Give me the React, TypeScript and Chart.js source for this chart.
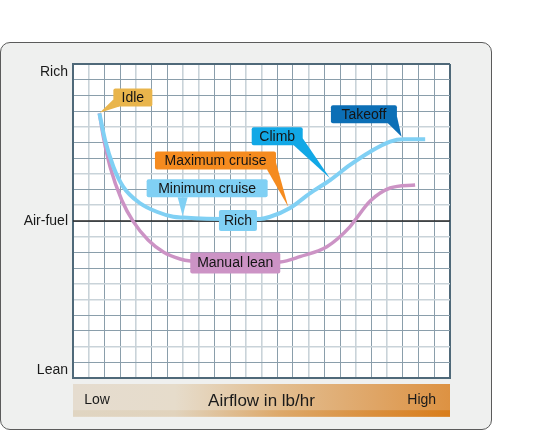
import React, { useEffect, useRef } from "react";
import { Chart, ChartConfiguration, registerables } from "chart.js";

Chart.register(...registerables);

const FONT = "'Liberation Sans', Arial, Helvetica, sans-serif";

// grid units: 24 airflow columns, 20 mixture rows (air-fuel = 10)
const autoRichAirflow = [1.68, 2.04, 2.57, 3.2, 4.27, 5.33, 6.39, 7.03, 8.5, 10.5, 11.9, 12.55, 13.82, 15.1, 16.37, 17.64, 18.92, 20.19, 21.02, 22.42];
const autoRichMixture = [16.86, 15.16, 13.46, 12.18, 11.13, 10.59, 10.27, 10.22, 10.15, 10.12, 10.13, 10.27, 10.83, 11.78, 12.61, 13.57, 14.41, 15.05, 15.2, 15.2];

const manualLeanAirflow = [1.68, 1.97, 2.36, 3.1, 3.84, 4.78, 5.8, 6.82, 7.48, 10.32, 13.18, 14.45, 16.16, 17.64, 17.96, 18.92, 20.19, 21.78];
const manualLeanMixture = [16.86, 15.16, 13.46, 11.34, 9.96, 8.79, 7.99, 7.58, 7.45, 7.32, 7.39, 7.73, 8.36, 9.64, 10.06, 11.27, 12.1, 12.29];

const airFuelLevel = 10;

const mixtureLabels = ["Lean", "Air-fuel", "Rich"];
const mixtureLabelAt = [0.5, 10, 19.5];
const airflowLabels = ["Low", "Airflow in lb/hr", "High"];
const airflowLabelAt = [1.53, 12, 22.2];

const gridCols = Array.from({ length: 25 }, (_, i) => i);
const gridRows = Array.from({ length: 21 }, (_, i) => i);

// which grid lines look lighter/thicker in the print
const lightCols = [1, 4, 7, 8, 11, 12, 15, 18, 20];
const lightRows = [2, 5, 6, 9, 11, 13, 16];

// callout boxes, anchored in grid units
const callouts = [
  { text: "Idle", x: 3.81, y: 17.87, w: 39, h: 18, color: "#e9b54c", tail: "bl", tipX: 1.7, tipY: 16.9 },
  { text: "Maximum cruise", x: 9.07, y: 13.85, w: 121, h: 18, color: "#f58b1f", tail: "br", tipX: 13.7, tipY: 10.91 },
  { text: "Minimum cruise", x: 8.54, y: 12.08, w: 121, h: 18, color: "#80d0f4", tail: "b", tipX: 6.98, tipY: 10.32 },
  { text: "Climb", x: 13.0, y: 15.4, w: 51, h: 18, color: "#12a8e6", tail: "br", tipX: 16.36, tipY: 12.72 },
  { text: "Takeoff", x: 18.52, y: 16.8, w: 66, h: 18, color: "#0c6fb6", tail: "br", tipX: 20.92, tipY: 15.37 },
  { text: "Rich", x: 10.5, y: 10.03, w: 38, h: 21, color: "#80d0f4", tail: "", tipX: 0, tipY: 0 },
  { text: "Manual lean", x: 10.33, y: 7.32, w: 90, h: 21, color: "#cc93c5", tail: "", tipX: 0, tipY: 0 },
];

const toPoints = (xs: number[], ys: number[]) => xs.map((x, i) => ({ x, y: ys[i] }));

const isInt = (v: number) => Math.abs(v - Math.round(v)) < 1e-6;

const backdrop = {
  id: "backdrop",
  beforeDraw(chart: Chart) {
    const { ctx, chartArea: a } = chart;
    ctx.save();
    ctx.fillStyle = "#ffffff";
    ctx.fillRect(a.left, a.top, a.right - a.left, a.bottom - a.top);
    // airflow bar under the plot
    const top = a.bottom + 6;
    const h = 32.7;
    const band = 6.5;
    const g = ctx.createLinearGradient(a.left, 0, a.right, 0);
    g.addColorStop(0, "#e5dccf");
    g.addColorStop(0.27, "#e6dccb");
    g.addColorStop(0.55, "#e2bd8f");
    g.addColorStop(0.8, "#dfa566");
    g.addColorStop(1, "#dd9242");
    ctx.fillStyle = g;
    ctx.fillRect(a.left, top, a.right - a.left, h);
    const g2 = ctx.createLinearGradient(a.left, 0, a.right, 0);
    g2.addColorStop(0, "#e0d5c2");
    g2.addColorStop(0.27, "#e1d3bd");
    g2.addColorStop(0.55, "#dda86a");
    g2.addColorStop(0.8, "#da8e3c");
    g2.addColorStop(1, "#d97d1c");
    ctx.fillStyle = g2;
    ctx.fillRect(a.left, top + h - band, a.right - a.left, band);
    ctx.restore();
  },
};

const calloutPlugin = {
  id: "callouts",
  afterDatasetsDraw(chart: Chart) {
    const { ctx } = chart;
    const sx = chart.scales.x;
    const sy = chart.scales.y;
    ctx.save();
    callouts.forEach((c) => {
      const cx = sx.getPixelForValue(c.x);
      const cy = sy.getPixelForValue(c.y);
      const l = cx - c.w / 2;
      const t = cy - c.h / 2;
      const r = l + c.w;
      const b = t + c.h;
      ctx.fillStyle = c.color;
      if (c.tail) {
        const tx = sx.getPixelForValue(c.tipX);
        const ty = sy.getPixelForValue(c.tipY);
        ctx.beginPath();
        if (c.tail === "bl") {
          ctx.moveTo(l, b - 7);
          ctx.lineTo(l + 6, b);
        } else if (c.tail === "br") {
          ctx.moveTo(r - 9, b);
          ctx.lineTo(r, b - 7);
        } else {
          ctx.moveTo(tx - 5, b);
          ctx.lineTo(tx + 5, b);
        }
        ctx.lineTo(tx, ty);
        ctx.closePath();
        ctx.fill();
      }
      ctx.beginPath();
      ctx.roundRect(l, t, c.w, c.h, 2);
      ctx.fill();
      ctx.fillStyle = "#141414";
      ctx.font = `14px ${FONT}`;
      ctx.textAlign = "center";
      ctx.textBaseline = "middle";
      ctx.fillText(c.text, cx, cy + 0.5);
    });
    ctx.restore();
  },
};

const AXIS_DARK = "#4f6979";

const config: ChartConfiguration = {
  type: "line",
  data: {
    datasets: [
      {
        label: "Auto rich",
        data: toPoints(autoRichAirflow, autoRichMixture),
        borderColor: "#80d0f4",
        borderWidth: 4,
        pointRadius: 0,
        cubicInterpolationMode: "monotone",
        fill: false,
        order: 1,
      },
      {
        label: "Manual lean",
        data: toPoints(manualLeanAirflow, manualLeanMixture),
        borderColor: "#cc93c5",
        borderWidth: 3.5,
        pointRadius: 0,
        cubicInterpolationMode: "monotone",
        fill: false,
        order: 2,
      },
      {
        label: "Air-fuel",
        data: [
          { x: gridCols[0], y: airFuelLevel },
          { x: gridCols[gridCols.length - 1], y: airFuelLevel },
        ],
        borderColor: "#262626",
        borderWidth: 1.3,
        pointRadius: 0,
        fill: false,
        order: 3,
      },
    ],
  },
  options: {
    animation: false,
    responsive: false,
    layout: { padding: { top: 64, right: 95, left: 0, bottom: 0 } },
    plugins: {
      legend: { display: false },
      tooltip: { enabled: false },
    },
    scales: {
      x: {
        type: "linear",
        min: 0,
        max: 24,
        afterBuildTicks: (scale: any) => {
          const vals = Array.from(new Set([...gridCols, ...airflowLabelAt])).sort((p, q) => p - q);
          scale.ticks = vals.map((v) => ({ value: v }));
        },
        afterFit: (scale: any) => {
          scale.height = 63;
        },
        ticks: {
          autoSkip: false,
          maxRotation: 0,
          padding: 13.6,
          color: "#1a1a1a",
          font: (c: any) => ({ family: FONT, size: c.tick && c.tick.value === 12 ? 17 : 14 }),
          callback: (v: any) => {
            const i = airflowLabelAt.indexOf(Number(v));
            return i >= 0 ? airflowLabels[i] : "";
          },
        },
        grid: {
          drawTicks: false,
          color: (c: any) => {
            const v = c.tick ? c.tick.value : 0;
            if (!isInt(v)) return "rgba(0,0,0,0)";
            if (v === 24) return AXIS_DARK;
            return lightCols.includes(v) ? "#c9d3d9" : "#8a9eab";
          },
          lineWidth: (c: any) => {
            const v = c.tick ? c.tick.value : 0;
            if (v === 24) return 2;
            return lightCols.includes(v) ? 1.6 : 1;
          },
        },
        border: { color: AXIS_DARK, width: 2 },
      },
      y: {
        type: "linear",
        min: 0,
        max: 20,
        afterBuildTicks: (scale: any) => {
          const vals = Array.from(new Set([...gridRows, ...mixtureLabelAt])).sort((p, q) => p - q);
          scale.ticks = vals.map((v) => ({ value: v }));
        },
        afterFit: (scale: any) => {
          scale.width = 73;
        },
        ticks: {
          autoSkip: false,
          padding: 5,
          color: "#1a1a1a",
          font: { family: FONT, size: 14 },
          callback: (v: any) => {
            const i = mixtureLabelAt.indexOf(Number(v));
            return i >= 0 ? mixtureLabels[i] : "";
          },
        },
        grid: {
          drawTicks: false,
          color: (c: any) => {
            const v = c.tick ? c.tick.value : 0;
            if (!isInt(v)) return "rgba(0,0,0,0)";
            if (v === 20) return AXIS_DARK;
            return lightRows.includes(v) ? "#c9d3d9" : "#8a9eab";
          },
          lineWidth: (c: any) => {
            const v = c.tick ? c.tick.value : 0;
            if (v === 20) return 2;
            return lightRows.includes(v) ? 1.6 : 1;
          },
        },
        border: { color: AXIS_DARK, width: 2 },
      },
    },
  },
  plugins: [backdrop, calloutPlugin],
};

export default function App() {
  const chartRef = useRef<HTMLCanvasElement | null>(null);

  useEffect(() => {
    if (!chartRef.current) {
      return;
    }
    const chartInstance = new Chart(chartRef.current, config);
    return () => {
      chartInstance.destroy();
    };
  }, [chartRef]);

  return (
    <div style={{ position: "fixed", left: 0, top: 0, width: 545, height: 441, background: "#ffffff" }}>
      <div
        style={{
          position: "absolute",
          left: 0,
          top: 42,
          width: 492,
          height: 388,
          boxSizing: "border-box",
          border: "1.5px solid #5b5b5b",
          borderRadius: 10,
          background: "#eff0ef",
        }}
      />
      <canvas ref={chartRef} width={545} height={441} style={{ position: "absolute", left: 0, top: 0 }}></canvas>
    </div>
  );
}
